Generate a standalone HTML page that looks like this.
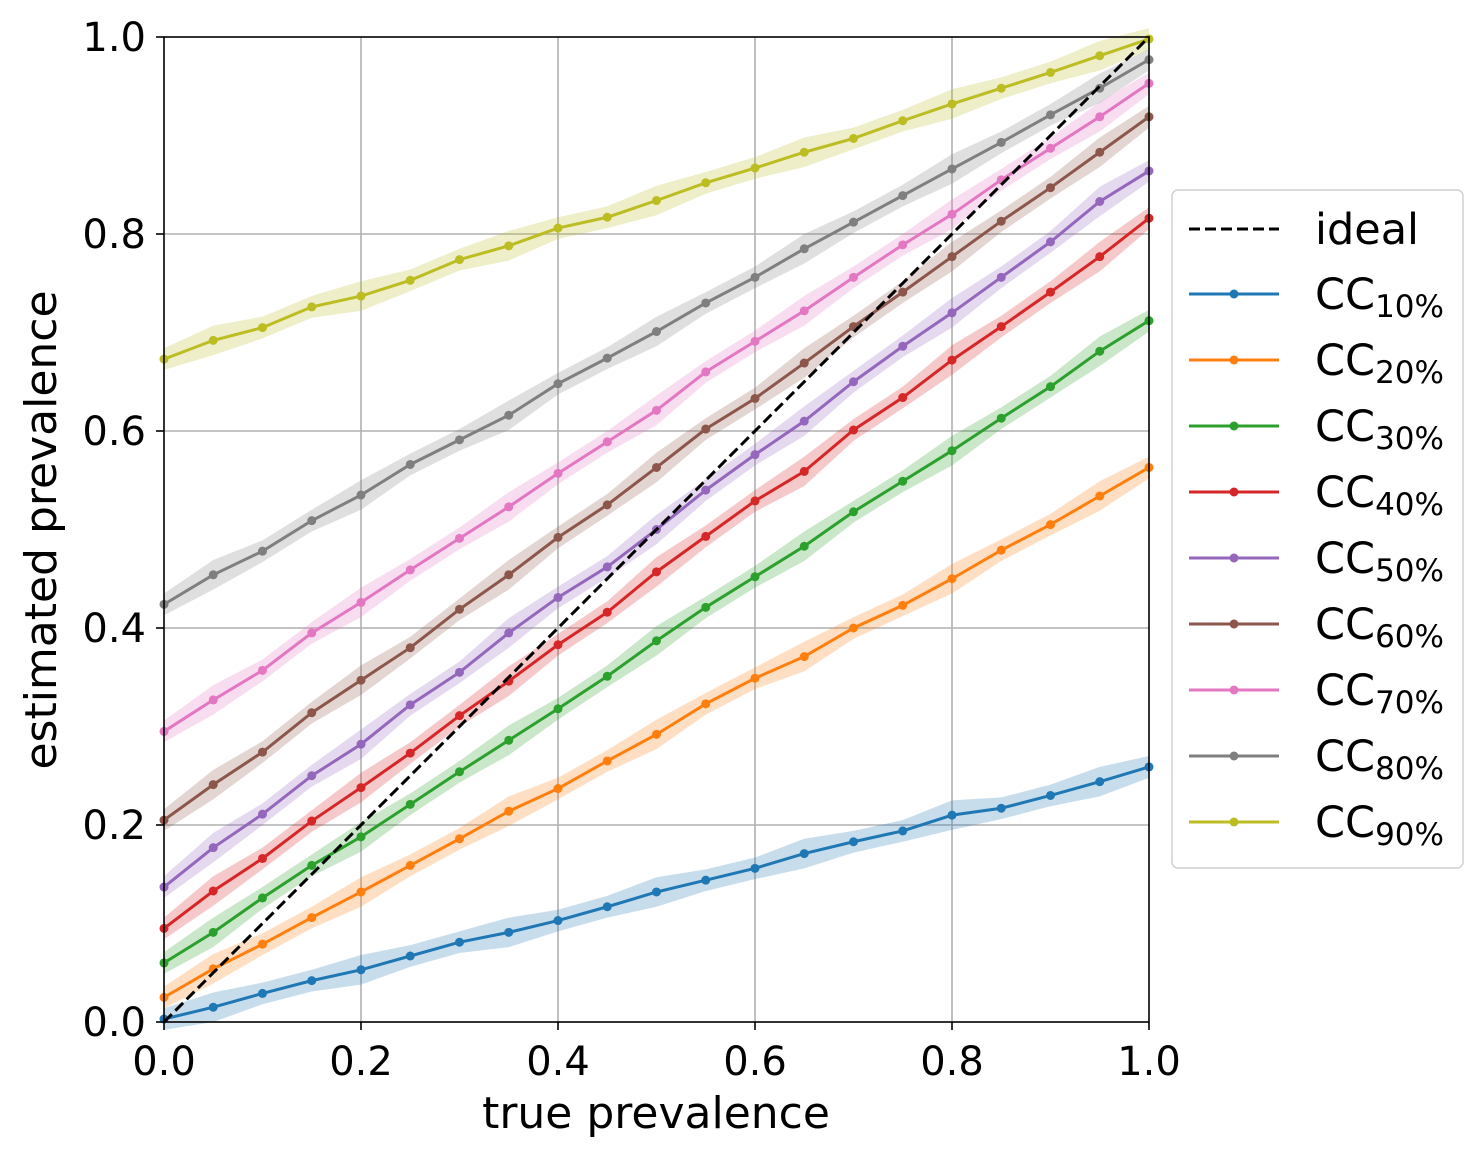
<!DOCTYPE html>
<html><head><meta charset="utf-8"><style>
body{margin:0;background:#fff}
svg text{font-family:"DejaVu Sans","Liberation Sans",sans-serif;fill:#000}
</style></head><body>
<svg id="s" width="1483" height="1159" xmlns="http://www.w3.org/2000/svg">
<rect width="1483" height="1159" fill="#fff"/>
<g id="grid" stroke="#b0b0b0" stroke-width="1.6"></g>
<g id="data"></g>
<line x1="164" y1="1022" x2="1149" y2="37" stroke="#000" stroke-width="3" stroke-dasharray="11,5"/>
<rect x="164" y="37" width="985" height="985" fill="none" stroke="#000" stroke-width="1.6"/>
<g id="ticks" stroke="#000" stroke-width="1.6"></g>
<g font-size="40" text-anchor="end">
<text x="146" y="1036">0.0</text><text x="146" y="839">0.2</text><text x="146" y="642">0.4</text><text x="146" y="445">0.6</text><text x="146" y="248">0.8</text><text x="146" y="51">1.0</text>
</g>
<g font-size="40" text-anchor="middle">
<text x="164" y="1075">0.0</text><text x="361" y="1075">0.2</text><text x="558" y="1075">0.4</text><text x="755" y="1075">0.6</text><text x="952" y="1075">0.8</text><text x="1149" y="1075">1.0</text>
<text x="656" y="1128" font-size="44">true prevalence</text>
<text transform="translate(56,530) rotate(-90)" font-size="44">estimated prevalence</text>
</g>
<rect x="1172" y="190" width="291" height="678" rx="6" fill="#fff" stroke="#d0d0d0" stroke-width="1.5"/>
<line x1="1189" y1="229" x2="1279" y2="229" stroke="#000" stroke-width="3" stroke-dasharray="11,5"/>
<g id="legl"></g>
<text x="1315" y="244" font-size="43">ideal</text>
<g font-size="43">
<text x="1315" y="309">CC<tspan font-size="31" dy="8">10%</tspan></text>
<text x="1315" y="375">CC<tspan font-size="31" dy="8">20%</tspan></text>
<text x="1315" y="441">CC<tspan font-size="31" dy="8">30%</tspan></text>
<text x="1315" y="507">CC<tspan font-size="31" dy="8">40%</tspan></text>
<text x="1315" y="573">CC<tspan font-size="31" dy="8">50%</tspan></text>
<text x="1315" y="639">CC<tspan font-size="31" dy="8">60%</tspan></text>
<text x="1315" y="705">CC<tspan font-size="31" dy="8">70%</tspan></text>
<text x="1315" y="771">CC<tspan font-size="31" dy="8">80%</tspan></text>
<text x="1315" y="837">CC<tspan font-size="31" dy="8">90%</tspan></text>
</g>
</svg>
<script>
var C=["#1f77b4","#ff7f0e","#2ca02c","#d62728","#9467bd","#8c564b","#e377c2","#7f7f7f","#bcbd22"];
var D=[
[.003,.015,.029,.042,.053,.067,.081,.091,.103,.117,.132,.144,.156,.171,.183,.194,.210,.217,.230,.244,.259],
[.025,.054,.079,.106,.132,.159,.186,.214,.237,.265,.292,.323,.349,.371,.400,.423,.450,.479,.505,.534,.563],
[.060,.091,.126,.159,.188,.221,.254,.286,.318,.351,.387,.421,.452,.483,.518,.549,.580,.613,.645,.681,.712],
[.095,.133,.166,.204,.238,.273,.311,.346,.383,.416,.457,.493,.529,.559,.601,.634,.672,.706,.741,.777,.816],
[.137,.177,.211,.250,.282,.322,.355,.395,.431,.462,.500,.540,.576,.610,.650,.686,.720,.756,.792,.833,.864],
[.205,.241,.274,.314,.347,.380,.419,.454,.492,.525,.563,.602,.633,.669,.706,.741,.777,.813,.847,.883,.919],
[.295,.327,.357,.395,.426,.459,.491,.523,.557,.589,.621,.660,.691,.722,.756,.789,.820,.855,.887,.919,.953],
[.424,.454,.478,.509,.535,.566,.591,.616,.648,.674,.701,.730,.756,.785,.812,.839,.866,.893,.921,.948,.977],
[.673,.692,.705,.726,.737,.753,.774,.788,.806,.817,.834,.852,.867,.883,.897,.915,.932,.948,.964,.981,.998]];
function X(v){return 164+985*v}function Y(v){return 1022-985*v}
var g="",tk="";
for(var i=0;i<=5;i++){var t=i*0.2;
 if(i>0&&i<5)g+='<line x1="'+X(t)+'" y1="37" x2="'+X(t)+'" y2="1022"/><line x1="164" y1="'+Y(t)+'" x2="1149" y2="'+Y(t)+'"/>';
 tk+='<line x1="'+X(t)+'" y1="1022" x2="'+X(t)+'" y2="1030"/><line x1="156" y1="'+Y(t)+'" x2="164" y2="'+Y(t)+'"/>';}
document.getElementById("grid").innerHTML=g;
document.getElementById("ticks").innerHTML=tk;
var h="",L="";
D.forEach(function(d,k){
 var up=[],lo=[],ln=[],dots="";
 d.forEach(function(v,j){var x=X(j*0.05),w=0.011+0.004*(j%3==1?1:0);
  up.push(x+","+Y(v+w));lo.unshift(x+","+Y(v-w));ln.push(x+","+Y(v));
  dots+='<circle cx="'+x+'" cy="'+Y(v)+'" r="4.5" fill="'+C[k]+'"/>';});
 h+='<polygon points="'+up.concat(lo).join(" ")+'" fill="'+C[k]+'" fill-opacity="0.25"/>';
 h+='<polyline points="'+ln.join(" ")+'" fill="none" stroke="'+C[k]+'" stroke-width="3"/>'+dots;
 var ly=294+66*k;
 L+='<line x1="1189" y1="'+ly+'" x2="1279" y2="'+ly+'" stroke="'+C[k]+'" stroke-width="3"/><circle cx="1234" cy="'+ly+'" r="4.5" fill="'+C[k]+'"/>';
});
document.getElementById("data").innerHTML=h;
document.getElementById("legl").innerHTML=L;
</script>
</body></html>
